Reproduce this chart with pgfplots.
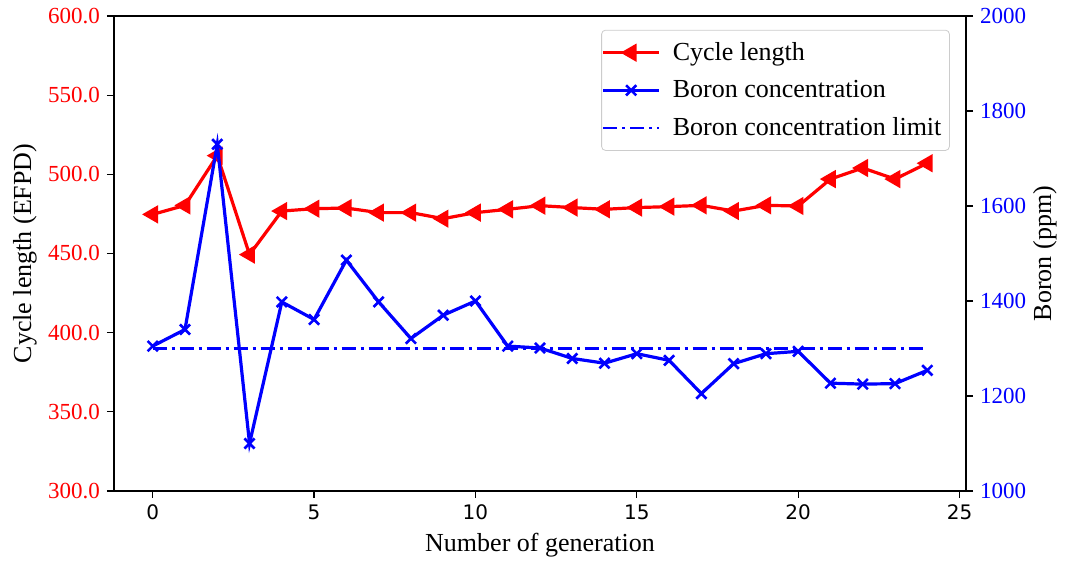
\documentclass[border=0pt]{standalone}
\usepackage{fontspec}
\setmainfont{Liberation Serif}
\newfontfamily\dejavu{DejaVu Sans}
\usepackage{pgfplots}
\usepackage{pgfplotstable}
\pgfplotsset{compat=1.18}

% generation, cycle length (EFPD), boron concentration (ppm)
\pgfplotstableread{
gen cycle boron
0  474.7 1305
1  480.4 1340
2  511.8 1730
3  449.3 1100
4  476.8 1398
5  478.3 1361
6  478.7 1486
7  475.8 1398
8  475.8 1321
9  472.0 1370
10 475.8 1400
11 477.9 1305
12 480.2 1301
13 479.0 1279
14 477.9 1269
15 479.0 1289
16 479.6 1275
17 480.4 1205
18 476.8 1268
19 480.4 1289
20 480.0 1294
21 497.0 1227
22 504.0 1225
23 497.0 1226
24 507.0 1254
}\datatable

\begin{document}
\begin{tikzpicture}
\pgfplotsset{
  common/.style={
    scale only axis, width=426pt, height=237.5pt,
    xmin=-1.2, xmax=25.2,
    tick align=outside, major tick length=3.5pt,
    tick style={black, line width=0.6pt},
    axis line style={line width=0.8pt},
    /pgf/number format/assume math mode=true,
    label style={font=\fontsize{13}{15}\selectfont},
  }
}
\begin{axis}[common,
  ymin=300, ymax=600,
  ytick={300,350,400,450,500,550,600},
  xtick={0,5,10,15,20,25},
  xtick pos=bottom, ytick pos=left,
  yticklabel style={red, font=\fontsize{11.5}{13}\selectfont,
    /pgf/number format/.cd, fixed, fixed zerofill, precision=1},
  xticklabel style={font=\dejavu\fontsize{10}{12}\selectfont},
  xlabel={Number of generation},
  ylabel={Cycle length (EFPD)},
  xlabel style={at={(axis description cs:0.5,-0.1137)}, anchor=center},
  ylabel style={at={(axis description cs:-0.1045,0.5)}, anchor=center},
  after end axis/.code={
    \path (rel axis cs:0,0) ++(-57pt,-37pt) rectangle (rel axis cs:1,1) ++(50pt,8pt);
  },
]
\addplot[red, line width=1.6pt, mark=triangle*, mark size=3.7pt,
  mark options={rotate=90, solid}]
  table[x=gen, y=cycle]{\datatable};
\end{axis}

\begin{axis}[common,
  axis y line*=right, axis x line=none,
  ymin=1000, ymax=2000,
  ytick={1000,1200,1400,1600,1800,2000},
  yticklabel style={blue, font=\fontsize{11.5}{13}\selectfont,
    /pgf/number format/.cd, fixed, 1000 sep={}},
  ylabel={Boron (ppm)},
  ylabel style={at={(axis description cs:1.0927,0.5)}, anchor=center},
  legend cell align=left,
  legend image code/.code={
    \draw[mark repeat=2, mark phase=2, #1]
      plot coordinates {(0pt,0pt) (14pt,0pt) (28pt,0pt)};
  },
  legend style={at={(0.981,0.971)}, anchor=north east,
    draw=black!20, rounded corners=2pt, fill=white,
    font=\fontsize{13}{15}\selectfont,
    row sep=4.5pt, column sep=2pt, inner xsep=0pt, inner ysep=4pt,
    nodes={inner xsep=4pt}},
]
\addlegendimage{red, line width=1.6pt, mark=triangle*, mark size=3.7pt,
  mark options={rotate=90, solid}}
\addlegendentry{Cycle length}
\addplot[blue, line width=1.6pt, mark=x, mark size=3.6pt,
  mark options={line width=1.3pt, solid}]
  table[x=gen, y=boron]{\datatable};
\addlegendentry{Boron concentration}
\addplot[blue, line width=1.3pt, dash pattern=on 7pt off 2.5pt on 1.5pt off 2.5pt]
  coordinates {(0,1300) (24,1300)};
\addlegendentry{Boron concentration limit}
\end{axis}
\end{tikzpicture}
\end{document}
